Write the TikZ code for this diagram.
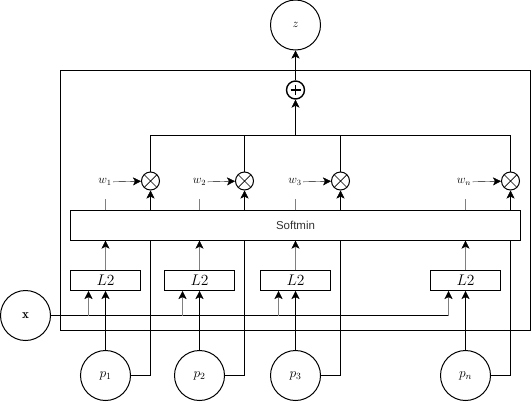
\RequirePackage{fix-cm}
\documentclass[tikz,border=0pt]{standalone}
\usepackage{fontspec}
\newfontfamily\smfont{Liberation Sans}
\usetikzlibrary{arrows.meta,backgrounds,calc}
\definecolor{txtgray}{HTML}{333333}
\definecolor{lngray}{HTML}{808080}
\begin{document}
\begin{tikzpicture}[x=1pt,y=-1pt,line width=1pt,
  arr/.style={-{Stealth[length=8pt,width=8pt,inset=2pt]}},
  garr/.style={draw=lngray,-{Stealth[length=8pt,width=8pt,inset=2pt,color=black]}},
  tickln/.style={draw=lngray},
  circnode/.style={circle,draw,minimum size=50pt,inner sep=0pt},
  otimes/.style={circle,draw,fill=white,minimum size=18pt,inner sep=0pt,
    path picture={\draw[line width=0.7pt] (path picture bounding box.north west) -- (path picture bounding box.south east)
      (path picture bounding box.north east) -- (path picture bounding box.south west);}},
  oplus/.style={circle,draw,line width=1.4pt,minimum size=18pt,inner sep=0pt,
    path picture={\draw[line width=1.1pt] ([xshift=-5pt]path picture bounding box.center) -- ([xshift=5pt]path picture bounding box.center)
      ([yshift=-5pt]path picture bounding box.center) -- ([yshift=5pt]path picture bounding box.center);}},
  l2box/.style={draw,minimum width=70pt,minimum height=20pt,inner sep=0pt,font=\fontsize{15.5}{18}\selectfont},
  wlab/.style={inner sep=1pt,font=\fontsize{12}{14}\selectfont},
  plab/.style={circnode,font=\fontsize{13.5}{16}\selectfont}
]
\useasboundingbox (0,0) rectangle (532,402);

% nodes
\node[circnode,font=\fontsize{12}{14}\selectfont] (z) at (295.5,25) {$z$};
\node[oplus] (sum) at (295.5,90) {};
\node[otimes] (m1) at (150.5,181) {};
\node[otimes] (m2) at (244.5,181) {};
\node[otimes] (m3) at (340.5,181) {};
\node[otimes] (mn) at (510.5,181) {};
\node[wlab] (w1) at (105,182) {$w_1$};
\node[wlab] (w2) at (199.5,182) {$w_2$};
\node[wlab] (w3) at (295,182) {$w_3$};
\node[wlab] (wn) at (464,182) {$w_n$};
\node[l2box] (L1) at (105.5,280.5) {$L2$};
\node[l2box] (L2) at (199.5,280.5) {$L2$};
\node[l2box] (L3) at (295.5,280.5) {$L2$};
\node[l2box] (Ln) at (465.5,280.5) {$L2$};
\node[plab] (p1) at (105.5,375.5) {$p_1$};
\node[plab] (p2) at (199.5,375.5) {$p_2$};
\node[plab] (p3) at (295.5,375.5) {$p_3$};
\node[plab] (pn) at (465.5,375.5) {$p_n$};
\node[circnode,font=\fontsize{13}{15}\selectfont] (xin) at (25.5,315.5) {$\mathbf{x}$};

\begin{pgfonlayer}{background}
\node[draw,minimum width=470pt,minimum height=260pt,inner sep=0pt] (outer) at (295.5,200.5) {};
\foreach \i in {1,2,3,n}{
  \draw[arr] (p\i.east) -| (m\i.south);
}
\end{pgfonlayer}

\node[draw,fill=white,minimum width=450pt,minimum height=30pt,inner sep=0pt,
  font=\smfont\fontsize{11.5}{13}\selectfont,text=txtgray] (sm) at (295.5,225.5) {Softmin};

% top part
\coordinate (bus) at (295.5,135.5);
\draw[arr] (sum) -- (z);
\draw[arr] (bus) -- (sum);
\draw (m1.north) |- (bus) -| (mn.north);
\draw (m2.north) -- (m2.north |- bus);
\draw (m3.north) -- (m3.north |- bus);
\foreach \i in {1,2,3,n}{
  \draw[arr] (w\i) -- (m\i);
}

% ticks from softmin toward weights
\foreach \i in {1,2,3,n}{
  \draw[tickln] (p\i |- sm.north) -- ++(0,-11.5);
}

% L2 to softmin, p to L2
\foreach \i in {1,2,3,n}{
  \draw[garr] (p\i |- L\i.north) -- (p\i |- sm.south);
  \draw[arr] (p\i) -- (p\i |- L\i.south);
  \coordinate (xb\i) at ($(p\i |- L\i.south)+(-17,0)$);
}

% x input
\draw (xin) -- (xbn |- xin);
\foreach \i in {1,2,3,n}{
  \draw[garr] (xb\i |- xin) -- (xb\i);
}
\end{tikzpicture}
\end{document}
